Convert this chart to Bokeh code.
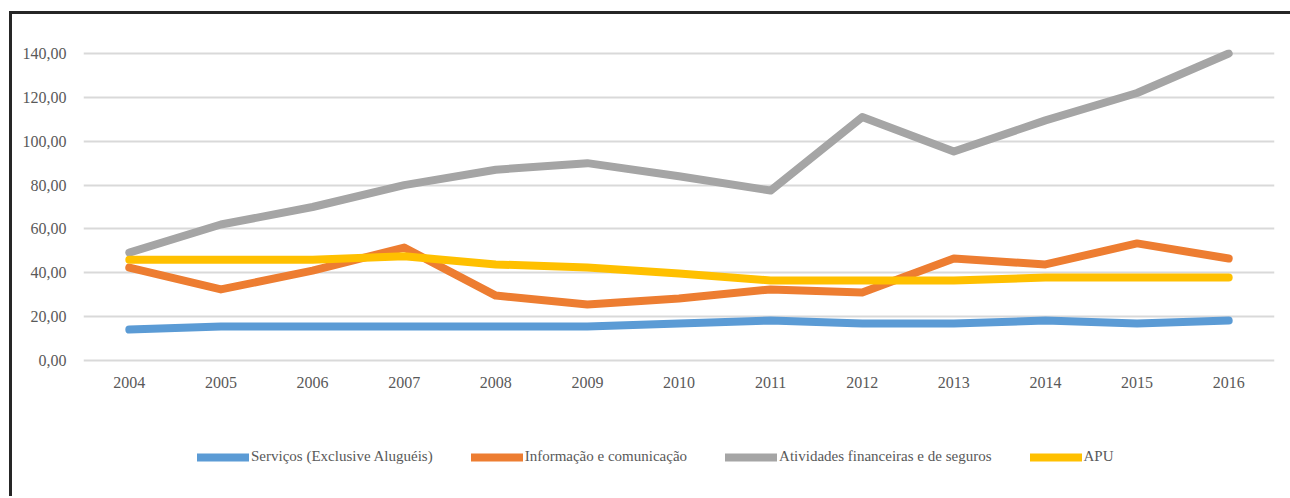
from bokeh.plotting import figure
from bokeh.layouts import column
from bokeh.models import (Range1d, FactorRange, Legend, LegendItem, SingleIntervalTicker,
                          CustomJSTickFormatter)
from bokeh.embed import file_html
from bokeh.resources import INLINE

years = ["2004", "2005", "2006", "2007", "2008", "2009", "2010",
         "2011", "2012", "2013", "2014", "2015", "2016"]

servicos = [14.1, 15.5, 15.5, 15.5, 15.5, 15.5, 16.9, 18.2, 16.9, 16.9, 18.2, 16.9, 18.2]
informacao = [42.4, 32.4, 41.0, 51.5, 29.6, 25.5, 28.3, 32.4, 31.0, 46.5, 43.8, 53.4, 46.5]
financeiras = [49.2, 62.0, 70.0, 80.0, 87.0, 90.0, 84.0, 77.5, 111.0, 95.3, 109.5, 122.0, 140.0]
apu = [46.0, 46.0, 46.0, 47.5, 43.8, 42.4, 39.7, 36.5, 36.5, 36.5, 37.8, 37.8, 37.8]

series_names = ["Serviços (Exclusive Aluguéis)", "Informação e comunicação",
                "Atividades financeiras e de seguros", "APU"]
series_values = [servicos, informacao, financeiras, apu]
series_colors = ["#5B9BD5", "#ED7D31", "#A5A5A5", "#FFC000"]

FONT = "Liberation Serif"
TXT = "#595959"

# main chart
p = figure(width=1278, height=382, output_backend="svg", toolbar_location=None,
           x_range=FactorRange(*years), y_range=Range1d(-1.824, 141.824),
           min_border_left=71, min_border_right=16, min_border_top=35, min_border_bottom=32)
p.outline_line_color = None

for name, vals, col in zip(series_names, series_values, series_colors):
    p.line(years, vals, line_color=col, line_width=8, line_cap="round", line_join="round")

p.yaxis.ticker = SingleIntervalTicker(interval=20)
p.yaxis.formatter = CustomJSTickFormatter(code="return tick.toFixed(2).replace('.', ',');")

for ax in (p.xaxis[0], p.yaxis[0]):
    ax.axis_line_color = None
    ax.major_tick_line_color = None
    ax.minor_tick_line_color = None
    ax.major_tick_out = 0
    ax.major_tick_in = 0
    ax.major_label_text_font = FONT
    ax.major_label_text_font_size = "16px"
    ax.major_label_text_color = TXT
p.xaxis.major_label_standoff = 12
p.yaxis.major_label_standoff = 13

p.xgrid.grid_line_color = None
p.ygrid.grid_line_color = "#D9D9D9"
p.ygrid.grid_line_width = 2

# legend strip (proxy lines lie outside its visible range)
lg = figure(width=1278, height=100, output_backend="svg", toolbar_location=None,
            x_range=Range1d(0, 1), y_range=Range1d(0, 1), min_border=0,
            x_axis_location=None, y_axis_location=None)
lg.outline_line_color = None
lg.grid.grid_line_color = None

items = []
for name, col in zip(series_names, series_colors):
    r = lg.line(x=[-3, -2], y=[-3, -3], line_color=col, line_width=8, line_cap="round")
    items.append(LegendItem(label=name, renderers=[r]))

legend = Legend(items=items, orientation="horizontal", location=(114, 31),
                glyph_width=52, glyph_height=16, label_standoff=2, spacing=38,
                padding=0, margin=0, border_line_color=None, background_fill_alpha=0,
                label_text_font=FONT, label_text_font_size="15px", label_text_color=TXT)
lg.add_layout(legend, "center")

layout = column(p, lg, spacing=0,
                styles={"margin-left": "9px", "margin-top": "11px",
                        "border-left": "3px solid #262626", "border-top": "3px solid #262626"})

open("out.html", "w").write(file_html(layout, INLINE))
